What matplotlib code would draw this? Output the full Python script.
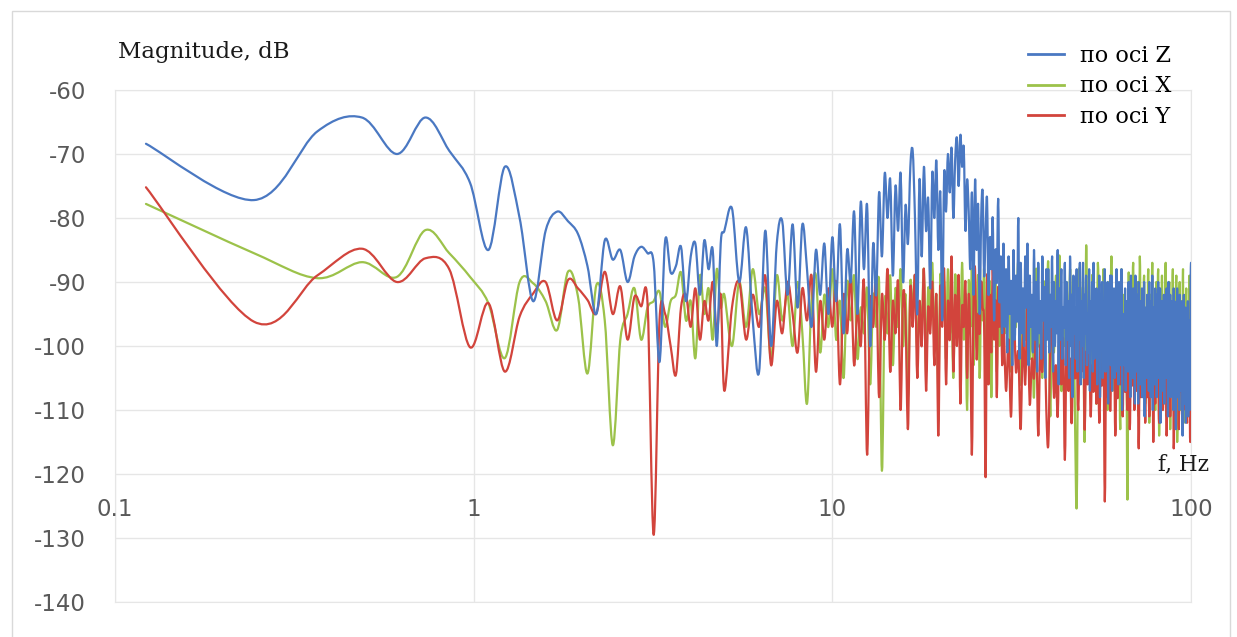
import numpy as np
import matplotlib
matplotlib.use('Agg')
import matplotlib.pyplot as plt
from matplotlib.path import Path
from matplotlib.patches import PathPatch, Rectangle
from matplotlib.lines import Line2D
from matplotlib.ticker import NullLocator

plt.rcParams['axes.unicode_minus'] = False

# spectrum below 5 Hz: FFT bins, 0.1221 Hz apart
FREQ_LO = [0.122, 0.244, 0.366, 0.488, 0.611, 0.733, 0.855, 0.977, 1.099, 1.221,
           1.343, 1.465, 1.587, 1.709, 1.832, 1.954, 2.076, 2.198, 2.320, 2.442,
           2.564, 2.686, 2.808, 2.930, 3.053, 3.175, 3.297, 3.419, 3.541, 3.663,
           3.785, 3.907, 4.029, 4.151, 4.274, 4.396, 4.518, 4.640, 4.762, 4.884]

Z_LO = [-68.4, -77.2, -66.5, -64.3, -70.0, -64.3, -69.5, -74.5, -85.0, -72.0,
        -80.0, -93.0, -82.0, -79.0, -80.5, -82.5, -87.5, -95.0, -83.5, -86.5,
        -85.0, -90.0, -86.0, -84.5, -85.5, -87.0, -102.5, -83.5, -88.5, -87.5,
        -84.5, -93.0, -86.0, -84.0, -92.0, -83.5, -88.0, -85.0, -100.0, -84.0]
X_LO = [-77.8, -85.5, -89.4, -86.9, -89.2, -81.9, -85.5, -89.2, -93.3, -101.9,
        -90.0, -90.2, -93.0, -97.5, -88.4, -92.3, -104.3, -90.5, -96.0, -115.5,
        -99.0, -95.0, -91.0, -99.0, -94.0, -93.0, -91.5, -97.0, -93.0, -92.0,
        -88.5, -96.0, -93.0, -101.9, -89.0, -95.0, -91.0, -99.0, -88.0, -94.0]
Y_LO = [-75.2, -96.2, -89.0, -84.8, -90.0, -86.3, -88.0, -100.2, -93.3, -104.0,
        -95.4, -91.8, -90.0, -96.0, -89.7, -91.0, -92.8, -94.9, -88.4, -95.0,
        -90.7, -99.0, -92.3, -93.8, -93.3, -129.5, -96.0, -95.0, -100.0, -104.5,
        -94.0, -92.0, -97.0, -91.0, -99.0, -93.0, -96.0, -90.0, -98.0, -92.0]

# 5.00 ... 29.75 Hz, every 0.25 Hz
MID_START, MID_STEP = 5.0, 0.25
Z_MID = [-82, -78.5, -90, -81.5, -96, -104, -82, -100, -84, -80.5,
         -92, -81, -94, -81, -88, -97, -85, -92, -84, -95,
         -83, -93, -81, -98, -85, -90, -79, -95, -77.5, -88,
         -78, -100, -84, -92, -76, -86, -73, -80, -74, -89,
         -75, -82, -73, -90, -78, -84, -72, -69.5, -80, -95,
         -74, -86, -72, -82, -77, -91, -73, -80, -71, -85,
         -76, -96, -73, -79, -70, -76, -69, -80, -71, -67.5,
         -75, -67, -72, -69, -82, -74, -79, -88, -76, -92,
         -74, -85, -78, -95, -80, -76, -89, -82, -77, -92,
         -83, -88, -80, -96, -85, -90, -77, -93, -86, -98]
X_MID = [-92, -100, -90, -97, -88, -95, -91, -102, -89, -96,
         -92, -100, -90, -98, -109, -93, -89, -101, -92, -97,
         -88, -99, -93, -105, -90, -96, -89, -102, -94, -98,
         -91, -106, -92, -97, -90, -119.5, -93, -98, -89, -103,
         -91, -97, -88, -100, -92, -108, -90, -95, -89, -101,
         -93, -97, -88, -104, -91, -96, -87, -100, -92, -107,
         -89, -95, -90, -102, -88, -98, -93, -105, -89, -96,
         -91, -101, -87, -99, -92, -110, -90, -97, -88, -103,
         -93, -98, -89, -105, -91, -96, -88, -102, -94, -99,
         -90, -108, -92, -97, -89, -104, -91, -100, -88, -96]
Y_MID = [-107, -94, -90, -99, -92, -97, -89, -103, -93, -98,
         -90, -95, -101, -91, -96, -89, -104, -93, -99, -91,
         -97, -90, -106, -92, -98, -89, -103, -94, -100, -90,
         -117, -93, -97, -89, -108, -92, -99, -88, -104, -93,
         -98, -90, -110, -92, -96, -113, -91, -97, -89, -105,
         -93, -100, -88, -107, -94, -98, -90, -103, -92, -114,
         -91, -97, -88, -106, -93, -99, -86, -104, -92, -100,
         -89, -109, -94, -97, -90, -105, -92, -99, -117, -93,
         -88, -102, -95, -98, -90, -94, -97, -120.5, -89, -106,
         -92, -101, -88, -99, -93, -108, -91, -97, -89, -103]

# 30 ... 100 Hz: Z every 0.25 Hz, X and Y every 0.5 Hz
HI_START = 30.0
Z_HI_STEP = 0.25
Z_HI = [-84, -97, -88, -101, -86, -95, -90, -103, -85, -99,
        -89, -96, -80, -102, -87, -98, -91, -100, -86, -94,
        -84, -103, -89, -97, -92, -101, -85, -99, -90, -104,
        -87, -98, -93, -102, -86, -96, -91, -105, -88, -99,
        -88, -101, -92, -97, -86, -104, -90, -100, -93, -98,
        -85, -106, -91, -99, -88, -102, -94, -97, -87, -103,
        -90, -99, -93, -105, -86, -100, -92, -108, -89, -98,
        -94, -102, -88, -104, -91, -99, -87, -106, -93, -100,
        -87, -105, -92, -98, -89, -103, -95, -101, -88, -107,
        -93, -100, -90, -104, -87, -102, -94, -99, -91, -106,
        -95, -101, -89, -108, -92, -98, -90, -105, -96, -102,
        -88, -104, -93, -100, -90, -109, -94, -101, -89, -103,
        -89, -107, -95, -100, -91, -105, -93, -102, -88, -104,
        -92, -106, -90, -99, -94, -103, -88, -110, -96, -101,
        -95, -103, -91, -107, -93, -100, -97, -104, -90, -102,
        -92, -108, -89, -101, -94, -105, -91, -103, -96, -109,
        -89, -104, -95, -101, -92, -109, -90, -103, -97, -106,
        -93, -102, -91, -108, -95, -104, -90, -111, -94, -101,
        -97, -105, -92, -102, -95, -107, -90, -104, -93, -108,
        -96, -103, -89, -110, -94, -102, -98, -106, -91, -101,
        -92, -108, -95, -103, -90, -105, -94, -104, -91, -112,
        -97, -102, -93, -107, -95, -104, -92, -109, -96, -103,
        -96, -105, -91, -104, -94, -111, -90, -103, -99, -106,
        -92, -108, -95, -102, -93, -106, -97, -110, -91, -104,
        -93, -105, -98, -113, -94, -103, -91, -108, -96, -104,
        -95, -110, -92, -104, -97, -107, -94, -105, -93, -114,
        -99, -104, -92, -109, -96, -103, -94, -112, -97, -106,
        -95, -108, -93, -111, -98, -104, -96, -110, -100, -90,
        -87]
XY_HI_STEP = 0.5
X_HI = [-90, -98, -88, -104, -92, -97, -87, -106, -93, -99,
        -89, -102, -95, -108, -88, -100, -94, -105, -90, -98,
        -87, -111, -93, -101, -89, -97, -86, -107, -94, -100,
        -90, -104, -88, -99, -95, -112, -125, -96, -88, -103,
        -91, -115, -84.5, -100, -93, -106, -89, -98, -95, -109,
        -87, -101, -92, -104, -88, -99, -94, -110, -90, -102,
        -86, -107, -93, -100, -89, -105, -95, -113, -88, -101,
        -92, -106, -97, -124, -89, -103, -91, -99, -87, -108,
        -94, -102, -90, -111, -86, -104, -93, -100, -89, -109,
        -95, -103, -88, -112, -92, -101, -87, -106, -94, -110,
        -90, -102, -88, -114, -93, -104, -89, -108, -96, -101,
        -87, -111, -92, -105, -90, -113, -95, -102, -88, -109,
        -94, -104, -89, -115, -96, -103, -90, -110, -93, -106,
        -88, -112, -97, -104, -91, -109, -94, -107, -89, -103,
        -95]
Y_HI = [-96, -107, -99, -111, -94, -104, -101, -113, -98, -106,
        -93, -109, -102, -105, -97, -114, -100, -104, -95, -110,
        -115.5, -101, -97, -108, -103, -111, -96, -106, -99, -117.8,
        -98, -107, -102, -112, -95, -105, -100, -110, -97, -104,
        -93, -113, -101, -106, -98, -111, -103, -107, -96, -109,
        -100, -112, -104, -106, -97, -124.3, -101, -108, -95, -110,
        -102, -105, -98, -114, -103, -108, -96, -106, -100, -111,
        -97, -107, -104, -110, -99, -113, -102, -106, -94, -110,
        -100, -107, -103, -116, -98, -108, -101, -105, -96, -112,
        -104, -108, -99, -111, -102, -106, -95, -115, -100, -109,
        -97, -105, -103, -112, -99, -107, -96, -110, -102, -106,
        -100, -114, -104, -108, -97, -111, -101, -106, -95, -116,
        -103, -109, -99, -105, -102, -113, -97, -107, -104, -111,
        -100, -106, -96, -110, -102, -112, -98, -107, -101, -115,
        -91]

LABELS = ["по осі Z", "по осі X", "по осі Y"]
COLORS = ["#4a78c2", "#9cc24a", "#d2443c"]
X_TICKS = [0.1, 1, 10, 100]
X_TICK_LABELS = ["0.1", "1", "10", "100"]


def spectrum(lo, mid, hi, hi_step):
    f = np.concatenate([FREQ_LO,
                        MID_START + MID_STEP * np.arange(len(mid)),
                        HI_START + hi_step * np.arange(len(hi))])
    v = np.concatenate([lo, mid, hi]).astype(float)
    return f, v


def smooth_path(f, v):
    # Catmull-Rom through the points, built in (log f, dB) so it bends like a
    # smoothed line on the log axis
    pts = np.column_stack([np.log10(f), v])
    p = np.vstack([pts[0], pts, pts[-1]])
    verts = [pts[0]]
    codes = [Path.MOVETO]
    for i in range(1, len(p) - 2):
        p0, p1, p2, p3 = p[i - 1], p[i], p[i + 1], p[i + 2]
        verts += [p1 + (p2 - p0) / 6.0, p2 - (p3 - p1) / 6.0, p2]
        codes += [Path.CURVE4] * 3
    verts = np.array(verts)
    verts[:, 0] = 10 ** verts[:, 0]
    return Path(verts, codes)


fig = plt.figure(figsize=(12.37, 6.37), dpi=100)
fig.patch.set_facecolor('white')
ax = fig.add_axes([115 / 1237, 1 - 602 / 637, (1191 - 115) / 1237, (602 - 90) / 637])

ax.set_xscale('log')
ax.set_xlim(0.1, 100)
ax.set_ylim(-140, -60)
ax.set_xticks(X_TICKS)
ax.xaxis.set_minor_locator(NullLocator())
ax.set_yticks(range(-140, -59, 10))
ax.grid(True, color='#e6e6e6', lw=1.0)
ax.set_axisbelow(True)
for s in ax.spines.values():
    s.set_color('#e6e6e6')
ax.tick_params(length=0, labelbottom=False)
ax.tick_params(axis='y', pad=21, labelsize=16.5, labelcolor='#595959')

data = {
    "Z": spectrum(Z_LO, Z_MID, Z_HI, Z_HI_STEP),
    "X": spectrum(X_LO, X_MID, X_HI, XY_HI_STEP),
    "Y": spectrum(Y_LO, Y_MID, Y_HI, XY_HI_STEP),
}
# X underneath, Y over it, Z on top
for key, z in (("X", 2), ("Y", 3), ("Z", 4)):
    f, v = data[key]
    color = COLORS["ZXY".index(key)]
    ax.add_patch(PathPatch(smooth_path(f, v), fill=False, ec=color, lw=1.6,
                           joinstyle='round', capstyle='round', zorder=z))

for x, lab in zip(X_TICKS, X_TICK_LABELS):
    ax.text(x, -125.6, lab, ha='center', va='center', fontsize=16.5,
            color='#595959', clip_on=False)

fig.text(118 / 1237, 1 - 52 / 637, "Magnitude, dB", family='DejaVu Serif',
         fontsize=16.5, ha='left', va='center', color='#1a1a1a')
fig.text(1183 / 1237, 1 - 464 / 637, "f, Hz", family='DejaVu Serif',
         fontsize=15.5, ha='center', va='center', color='#1a1a1a')

handles = [Line2D([], [], color=c, lw=2) for c in COLORS]
fig.legend(handles, LABELS, loc='upper left', bbox_to_anchor=(1028 / 1237, 1 - 45 / 637),
           frameon=False, borderpad=0, borderaxespad=0, handlelength=1.6,
           handletextpad=0.75, labelspacing=0.38,
           prop={'family': 'DejaVu Serif', 'size': 16})

fig.patches.append(Rectangle((12 / 1237, -0.05), (1230 - 12) / 1237, 1 - 11 / 637 + 0.05,
                             transform=fig.transFigure, fill=False, ec='#d9d9d9', lw=1))

fig.savefig('out.png', dpi=100)
